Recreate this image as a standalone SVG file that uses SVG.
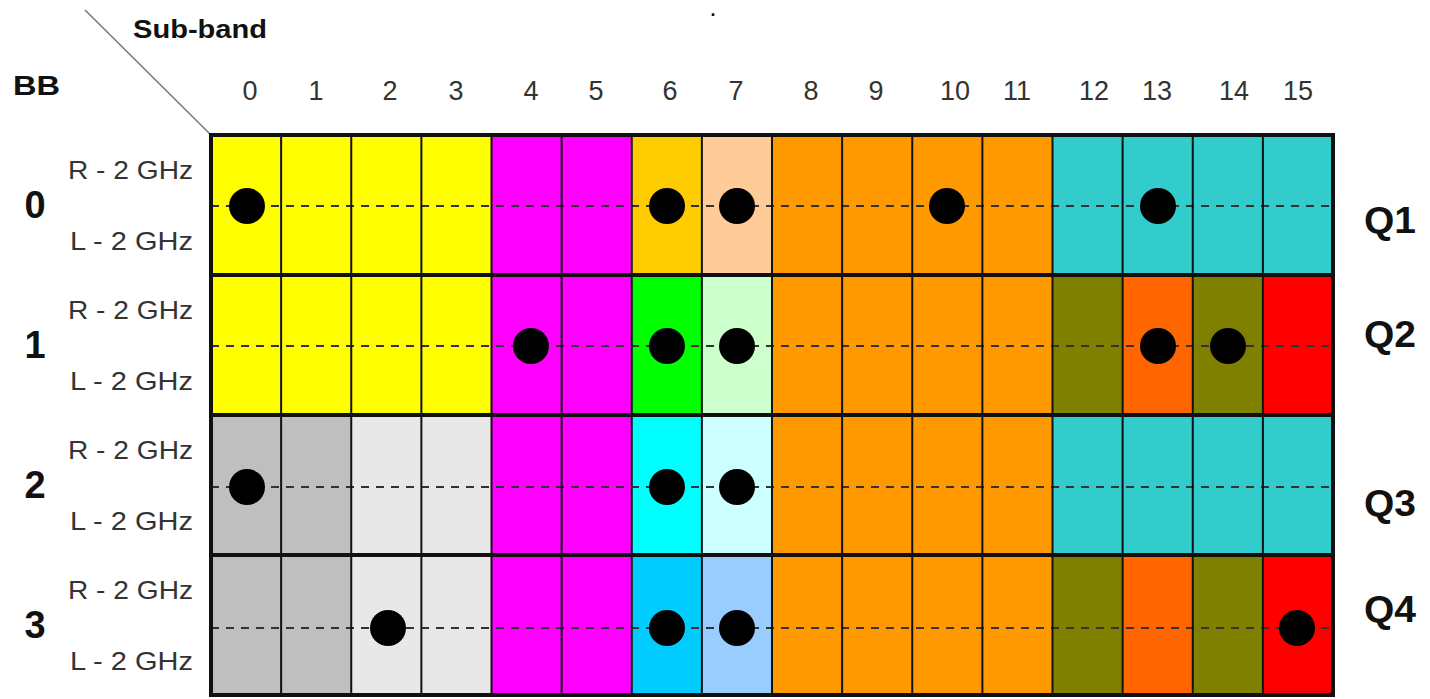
<svg xmlns="http://www.w3.org/2000/svg" width="1430" height="699" viewBox="0 0 1430 699">
<style>
.lbl{font-family:"Liberation Sans",Arial,sans-serif;font-size:25px;fill:#333}
.num{font-family:"Liberation Sans",Arial,sans-serif;font-size:27px;fill:#333;text-anchor:middle}
.bold{font-family:"Liberation Sans",Arial,sans-serif;font-weight:bold;fill:#111}
.rown{font-family:"Liberation Sans",Arial,sans-serif;font-weight:bold;font-size:38px;fill:#111;text-anchor:middle}
.q{font-family:"Liberation Sans",Arial,sans-serif;font-weight:bold;font-size:36px;fill:#111}
.thin{stroke:#111;stroke-width:2;fill:none}
.thick{stroke:#111;stroke-width:4;fill:none}
.dash{stroke:#333;stroke-width:2;stroke-dasharray:8 7;fill:none}
.dot{fill:#000}
</style>
<rect width="1430" height="699" fill="#fff"/>
<g id="header">
<line x1="85" y1="10" x2="211" y2="135" stroke="#777" stroke-width="1.5"/>
<text class="bold" x="133" y="38" font-size="25" textLength="134" lengthAdjust="spacingAndGlyphs">Sub-band</text>
<text class="bold" x="13" y="95" font-size="28" textLength="47" lengthAdjust="spacingAndGlyphs">BB</text>
<text class="bold" x="713" y="16" font-size="18" text-anchor="middle">.</text>
<text class="num" x="250" y="100">0</text>
<text class="num" x="316" y="100">1</text>
<text class="num" x="390" y="100">2</text>
<text class="num" x="456" y="100">3</text>
<text class="num" x="531" y="100">4</text>
<text class="num" x="596" y="100">5</text>
<text class="num" x="670" y="100">6</text>
<text class="num" x="736" y="100">7</text>
<text class="num" x="811" y="100">8</text>
<text class="num" x="876" y="100">9</text>
<text class="num" x="955" y="100">10</text>
<text class="num" x="1017" y="100">11</text>
<text class="num" x="1094" y="100">12</text>
<text class="num" x="1157" y="100">13</text>
<text class="num" x="1234" y="100">14</text>
<text class="num" x="1298" y="100">15</text>
</g>
<g id="row0">
<rect x="211" y="135" width="280.5" height="140" fill="#FFFF00"/>
<rect x="491.5" y="135" width="140.25" height="140" fill="#FF00FF"/>
<rect x="631.75" y="135" width="70.125" height="140" fill="#FFCC00"/>
<rect x="701.875" y="135" width="70.125" height="140" fill="#FFCC99"/>
<rect x="772" y="135" width="280.5" height="140" fill="#FF9900"/>
<rect x="1052.5" y="135" width="280.5" height="140" fill="#33CCCC"/>
<text class="rown" x="35" y="218">0</text>
<text class="lbl" x="68" y="179" textLength="125" lengthAdjust="spacingAndGlyphs">R - 2 GHz</text>
<text class="lbl" x="70" y="250" textLength="123" lengthAdjust="spacingAndGlyphs">L - 2 GHz</text>
<text class="q" x="1364" y="233" textLength="52" lengthAdjust="spacingAndGlyphs">Q1</text>
</g>
<g id="row1">
<rect x="211" y="275" width="280.5" height="140" fill="#FFFF00"/>
<rect x="491.5" y="275" width="140.25" height="140" fill="#FF00FF"/>
<rect x="631.75" y="275" width="70.125" height="140" fill="#00FF00"/>
<rect x="701.875" y="275" width="70.125" height="140" fill="#CCFFCC"/>
<rect x="772" y="275" width="280.5" height="140" fill="#FF9900"/>
<rect x="1052.5" y="275" width="70.125" height="140" fill="#808000"/>
<rect x="1122.625" y="275" width="70.125" height="140" fill="#FF6600"/>
<rect x="1192.75" y="275" width="70.125" height="140" fill="#808000"/>
<rect x="1262.875" y="275" width="70.125" height="140" fill="#FF0000"/>
<text class="rown" x="35" y="358">1</text>
<text class="lbl" x="68" y="319" textLength="125" lengthAdjust="spacingAndGlyphs">R - 2 GHz</text>
<text class="lbl" x="70" y="390" textLength="123" lengthAdjust="spacingAndGlyphs">L - 2 GHz</text>
<text class="q" x="1364" y="347" textLength="52" lengthAdjust="spacingAndGlyphs">Q2</text>
</g>
<g id="row2">
<rect x="211" y="415" width="140.25" height="140" fill="#BFBFBF"/>
<rect x="351.25" y="415" width="140.25" height="140" fill="#E8E8E8"/>
<rect x="491.5" y="415" width="140.25" height="140" fill="#FF00FF"/>
<rect x="631.75" y="415" width="70.125" height="140" fill="#00FFFF"/>
<rect x="701.875" y="415" width="70.125" height="140" fill="#CCFFFF"/>
<rect x="772" y="415" width="280.5" height="140" fill="#FF9900"/>
<rect x="1052.5" y="415" width="280.5" height="140" fill="#33CCCC"/>
<text class="rown" x="35" y="498">2</text>
<text class="lbl" x="68" y="459" textLength="125" lengthAdjust="spacingAndGlyphs">R - 2 GHz</text>
<text class="lbl" x="70" y="530" textLength="123" lengthAdjust="spacingAndGlyphs">L - 2 GHz</text>
<text class="q" x="1364" y="516" textLength="52" lengthAdjust="spacingAndGlyphs">Q3</text>
</g>
<g id="row3">
<rect x="211" y="555" width="140.25" height="140" fill="#BFBFBF"/>
<rect x="351.25" y="555" width="140.25" height="140" fill="#E8E8E8"/>
<rect x="491.5" y="555" width="140.25" height="140" fill="#FF00FF"/>
<rect x="631.75" y="555" width="70.125" height="140" fill="#00CCFF"/>
<rect x="701.875" y="555" width="70.125" height="140" fill="#99CCFF"/>
<rect x="772" y="555" width="280.5" height="140" fill="#FF9900"/>
<rect x="1052.5" y="555" width="70.125" height="140" fill="#808000"/>
<rect x="1122.625" y="555" width="70.125" height="140" fill="#FF6600"/>
<rect x="1192.75" y="555" width="70.125" height="140" fill="#808000"/>
<rect x="1262.875" y="555" width="70.125" height="140" fill="#FF0000"/>
<text class="rown" x="35" y="638">3</text>
<text class="lbl" x="68" y="599" textLength="125" lengthAdjust="spacingAndGlyphs">R - 2 GHz</text>
<text class="lbl" x="70" y="670" textLength="123" lengthAdjust="spacingAndGlyphs">L - 2 GHz</text>
<text class="q" x="1364" y="622" textLength="52" lengthAdjust="spacingAndGlyphs">Q4</text>
</g>
<g id="connectors">
<path class="dash" d="M211 206H1333M211 346H1333M211 487H1333M211 628H1333"/>
<path class="thin" d="M281.125 135V695M351.25 135V695M421.375 135V695M491.5 135V695M561.625 135V695M631.75 135V695M701.875 135V695M772 135V695M842.125 135V695M912.25 135V695M982.375 135V695M1052.5 135V695M1122.625 135V695M1192.75 135V695M1262.875 135V695"/>
<path class="thick" d="M211 275H1333M211 415H1333M211 555H1333"/>
<rect class="thick" x="211" y="135" width="1122" height="560"/>
</g>
<g id="dots">
<circle class="dot" cx="247" cy="206" r="18"/>
<circle class="dot" cx="667" cy="206" r="18"/>
<circle class="dot" cx="737" cy="206" r="18"/>
<circle class="dot" cx="947" cy="206" r="18"/>
<circle class="dot" cx="1158" cy="206" r="18"/>
<circle class="dot" cx="531" cy="346" r="18"/>
<circle class="dot" cx="667" cy="346" r="18"/>
<circle class="dot" cx="737" cy="346" r="18"/>
<circle class="dot" cx="1158" cy="346" r="18"/>
<circle class="dot" cx="1228" cy="346" r="18"/>
<circle class="dot" cx="247" cy="487" r="18"/>
<circle class="dot" cx="667" cy="487" r="18"/>
<circle class="dot" cx="737" cy="487" r="18"/>
<circle class="dot" cx="388" cy="628" r="18"/>
<circle class="dot" cx="667" cy="628" r="18"/>
<circle class="dot" cx="737" cy="628" r="18"/>
<circle class="dot" cx="1297" cy="628" r="18"/>
</g>
</svg>
